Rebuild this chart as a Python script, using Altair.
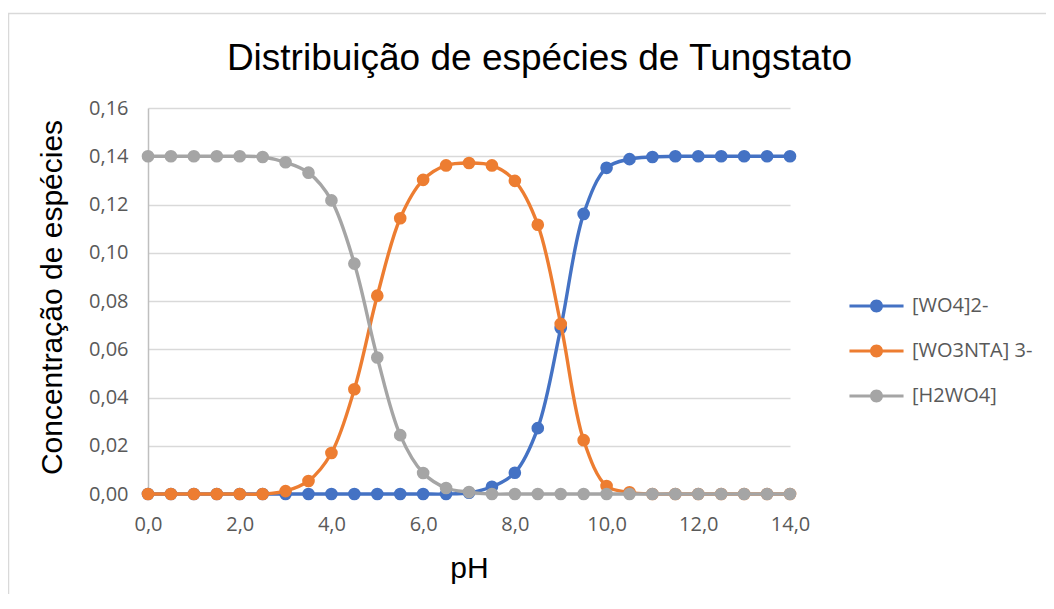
import altair as alt
import pandas as pd

ph = [0.0, 0.5, 1.0, 1.5, 2.0, 2.5, 3.0, 3.5, 4.0, 4.5, 5.0, 5.5, 6.0, 6.5, 7.0,
      7.5, 8.0, 8.5, 9.0, 9.5, 10.0, 10.5, 11.0, 11.5, 12.0, 12.5, 13.0, 13.5, 14.0]

wo4 = [0, 0, 0, 0, 0, 0, 0, 0, 0, 0, 0, 0, 0, 0, 0.0005,
       0.003, 0.0088, 0.0273, 0.0688, 0.1161, 0.1352, 0.1388, 0.1397, 0.14, 0.14, 0.14, 0.14, 0.14, 0.14]

wo3nta = [0, 0, 0, 0, 0, 0, 0.0012, 0.0054, 0.017, 0.0434, 0.0822, 0.1143, 0.1302, 0.1362, 0.1372,
          0.1362, 0.1298, 0.1116, 0.0705, 0.0223, 0.0033, 0.0007, 0, 0, 0, 0, 0, 0, 0]

h2wo4 = [0.14, 0.14, 0.14, 0.14, 0.14, 0.1397, 0.1375, 0.1332, 0.1217, 0.0955, 0.0566, 0.0244, 0.0087, 0.0025, 0.0008,
         0, 0, 0, 0, 0, 0, 0, 0, 0, 0, 0, 0, 0, 0]

series_names = ["[WO4]2-", "[WO3NTA] 3-", "[H2WO4]"]
series_colors = ["#4472C4", "#ED7D31", "#A5A5A5"]
x_ticks = [0, 2, 4, 6, 8, 10, 12, 14]
y_ticks = [0, 0.02, 0.04, 0.06, 0.08, 0.10, 0.12, 0.14, 0.16]

title_text = "Distribuição de espécies de Tungstato"
x_title = "pH"
y_title = "Concentração de espécies"

rows = []
for name, vals in zip(series_names, [wo4, wo3nta, h2wo4]):
    for p, v in zip(ph, vals):
        rows.append({"pH": p, "conc": v, "especie": name})
df = pd.DataFrame(rows)

x_enc = alt.X(
    "pH:Q",
    scale=alt.Scale(domain=[0, 14], nice=False, zero=False),
    axis=alt.Axis(
        values=x_ticks,
        labelExpr="replace(format(datum.value, '.1f'), '.', ',')",
        grid=False, ticks=False, labelFlush=False,
        domainColor="#bfbfbf", domainWidth=1,
        labelFont="Open Sans", labelFontSize=20, labelColor="#595959",
        labelPadding=20,
        title=x_title, titleFont="Liberation Sans", titleFontSize=30,
        titleFontWeight="normal", titleColor="#000000",
        titleBaseline="alphabetic", titleY=83,
    ),
)
y_enc = alt.Y(
    "conc:Q",
    scale=alt.Scale(domain=[0, 0.16], nice=False),
    axis=alt.Axis(
        values=y_ticks,
        labelExpr="replace(format(datum.value, '.2f'), '.', ',')",
        grid=True, gridColor="#d9d9d9", gridWidth=1.5,
        ticks=False, domainColor="#bfbfbf", domainWidth=1.5,
        labelFont="Open Sans", labelFontSize=20, labelColor="#595959",
        labelPadding=20, labelFlush=False,
        title=y_title, titleFont="Liberation Sans", titleFontSize=30,
        titleFontWeight="normal", titleColor="#000000",
        titleBaseline="alphabetic", titleX=-87, titleY=189, titleAngle=-90,
    ),
)

legend_symbol = ("M-4.16,-0.24H-0.9V0.24H-4.16Z "
                 "M0.9,-0.24H4.16V0.24H0.9Z "
                 "M-1,0A1,1 0 1,1 1,0A1,1 0 1,1 -1,0Z")

legend = alt.Legend(
    title=None, orient="none", legendX=718.5, legendY=188,
    symbolType=legend_symbol, symbolSize=169, symbolStrokeWidth=0,
    labelFont="Open Sans", labelFontSize=20, labelColor="#595959",
    labelOffset=25.5, rowPadding=25, padding=0,
)

color_scale = alt.Scale(domain=series_names, range=series_colors)

layers = []
for name, col in zip(series_names, series_colors):
    base = alt.Chart(df).transform_filter(alt.datum.especie == name)
    line = base.mark_line(strokeWidth=3.4, interpolate="catmull-rom", color=col).encode(
        x=x_enc, y=y_enc,
    )
    pts = base.mark_circle(size=160, opacity=1).encode(
        x=x_enc, y=y_enc,
        fill=alt.Fill("especie:N", scale=color_scale, legend=legend),
    )
    layers += [line, pts]

one = pd.DataFrame({"t": [title_text]})
border = alt.Chart(one).mark_rect(filled=False, stroke="#d9d9d9", strokeWidth=1.5).encode(
    x=alt.value(-139.5), x2=alt.value(1300), y=alt.value(-94.5), y2=alt.value(1000)
)
title = alt.Chart(one).mark_text(
    font="Liberation Sans", fontSize=37, color="#000000", align="center", baseline="alphabetic"
).encode(text="t:N", x=alt.value(391.5), y=alt.value(-38))

chart = alt.layer(border, *layers, title).properties(
    width=642, height=386,
    autosize=alt.AutoSizeParams(type="none"),
    padding={"left": 140, "top": 100, "right": 256, "bottom": 100},
).configure_view(strokeWidth=0)

chart.save("out.html", embed_options={"renderer": "svg", "actions": False})
